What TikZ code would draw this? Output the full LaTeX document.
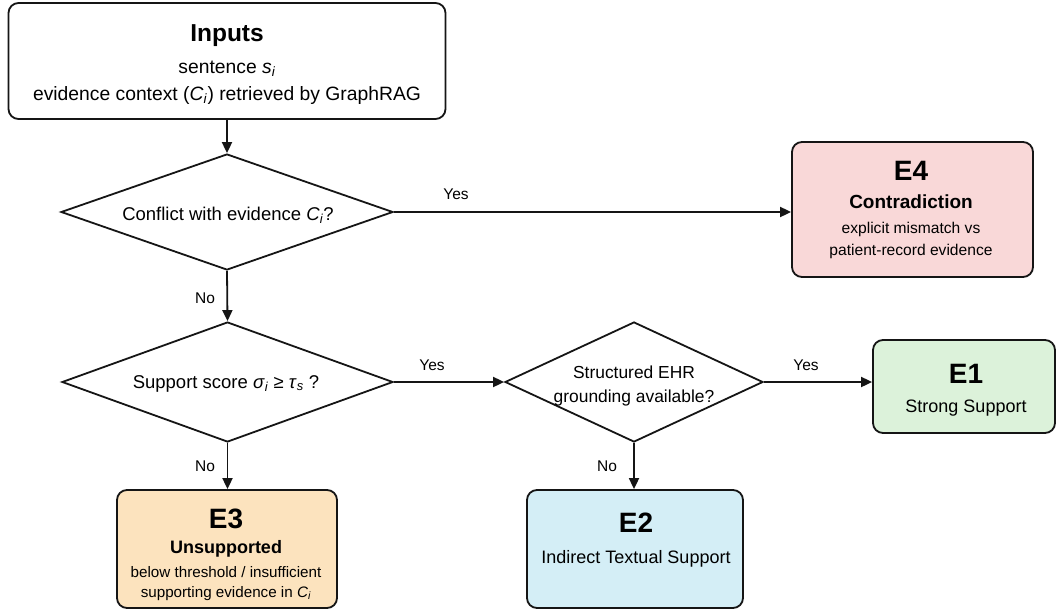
\documentclass[tikz,border=0pt]{standalone}
\usepackage{fontspec}
\setmainfont{Liberation Sans}
\usetikzlibrary{shapes.geometric,arrows.meta}
\definecolor{linec}{HTML}{151515}
\definecolor{pinkfill}{HTML}{F9D8D8}
\definecolor{greenfill}{HTML}{DCF2DA}
\definecolor{bluefill}{HTML}{D4EEF6}
\definecolor{peachfill}{HTML}{FCE3BE}
\newcommand{\fs}[1]{\fontsize{#1}{#1}\selectfont}
\newcommand{\sub}[2]{\textit{#1}\textsubscript{\textit{#2}}}
\begin{document}
\begin{tikzpicture}[x=1pt,y=-1pt,
  box/.style={draw=linec,line width=1.8pt,rounded corners=10pt,inner sep=0pt},
  dia/.style={draw=linec,line width=1.8pt,diamond,inner sep=0pt,fill=white},
  txt/.style={anchor=base,inner sep=0pt,text=black},
  arr/.style={draw=linec,line width=1.8pt,-{Triangle[length=11pt,width=10pt]}},
  lbl/.style={inner sep=0pt,text=black,font=\fs{15.5}}]
\useasboundingbox[fill=white] (0,0) rectangle (1056,613);

% Inputs
\node[box,fill=white,minimum width=437pt,minimum height=116pt] (inputs) at (227,61) {};
\node[txt,font=\bfseries\fs{24.5}] (inputsT) at (227,41) {Inputs};
\node[txt,font=\fs{19.3}] (inputsS) at (227,73) {sentence \sub{s}{i}};
\node[txt,font=\fs{19.3}] (inputsE) at (227,100) {evidence context (\sub{C}{i}) retrieved by GraphRAG};

% Decisions
\node[dia,minimum width=332pt,minimum height=116pt] (d1) at (227,212) {};
\node[txt,font=\fs{18.5}] (d1T) at (228,220) {Conflict with evidence \sub{C}{i}?};

\node[dia,minimum width=331pt,minimum height=120pt] (d2) at (227.5,382) {};
\node[txt,font=\fs{18.5}] (d2T) at (226,388) {Support score \sub{σ}{i} ≥ \sub{τ}{s} ?};

\node[dia,minimum width=258pt,minimum height=120pt] (d3) at (634,382) {};
\node[txt,font=\fs{17.4}] (d3T1) at (634,378) {Structured EHR};
\node[txt,font=\fs{17.4}] (d3T2) at (634,402) {grounding available?};

% Outcomes
\node[box,fill=pinkfill,minimum width=241pt,minimum height=135pt] (e4) at (912.5,209.5) {};
\node[txt,font=\bfseries\fs{28}] (e4A) at (911,180) {E4};
\node[txt,font=\bfseries\fs{19}] (e4B) at (911,208) {Contradiction};
\node[txt,font=\fs{15.6}] (e4C) at (911,233) {explicit mismatch vs};
\node[txt,font=\fs{15.6}] (e4D) at (911,255) {patient-record evidence};

\node[box,fill=greenfill,minimum width=182pt,minimum height=93pt] (e1) at (964,386.5) {};
\node[txt,font=\bfseries\fs{28}] (e1A) at (966,383) {E1};
\node[txt,font=\fs{18}] (e1B) at (966,412) {Strong Support};

\node[box,fill=bluefill,minimum width=216pt,minimum height=118pt] (e2) at (635,549) {};
\node[txt,font=\bfseries\fs{28}] (e2A) at (636,532) {E2};
\node[txt,font=\fs{18}] (e2B) at (636,563) {Indirect Textual Support};

\node[box,fill=peachfill,minimum width=220pt,minimum height=118pt] (e3) at (227,549) {};
\node[txt,font=\bfseries\fs{28}] (e3A) at (226,528) {E3};
\node[txt,font=\bfseries\fs{18}] (e3B) at (226,553) {Unsupported};
\node[txt,font=\fs{15.2}] (e3C) at (226,577) {below threshold / insufficient};
\node[txt,font=\fs{15.2}] (e3D) at (226,597) {supporting evidence in \sub{C}{i}};

% Connectors
\draw[arr] (inputs.south) -- (d1.north);
\draw[arr] (d1.east) -- (d1.east -| e4.west);
\draw[arr] (d1.south) -- (d2.north);
\draw[arr] (d2.east) -- (d3.west);
\draw[arr] (d3.east) -- (d3.east -| e1.west);
\draw[arr] (d2.south) -- (d2.south |- e3.north);
\draw[arr] (d3.south) -- (d3.south |- e2.north);

% Labels
\node[lbl] (y1) at (456,194) {Yes};
\node[lbl] (n1) at (205,298) {No};
\node[lbl] (y2) at (432,365) {Yes};
\node[lbl] (y3) at (806,365) {Yes};
\node[lbl] (n2) at (205,466) {No};
\node[lbl] (n3) at (607,466) {No};
\end{tikzpicture}
\end{document}
